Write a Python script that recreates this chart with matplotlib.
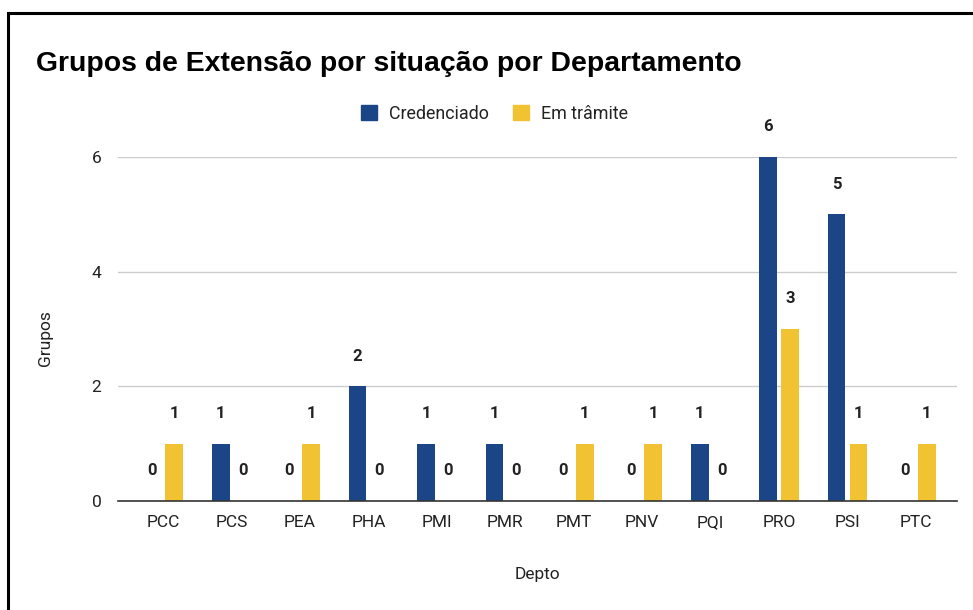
import matplotlib.pyplot as plt
import numpy as np
from matplotlib.patches import Patch
from matplotlib.lines import Line2D

deptos = ['PCC', 'PCS', 'PEA', 'PHA', 'PMI', 'PMR', 'PMT', 'PNV', 'PQI', 'PRO', 'PSI', 'PTC']
credenciado = [0, 1, 0, 2, 1, 1, 0, 0, 1, 6, 5, 0]
em_tramite = [1, 0, 1, 0, 0, 0, 1, 1, 0, 3, 1, 1]
series_names = ['Credenciado', 'Em trâmite']
colors = ['#1c4587', '#f1c232']

plt.rcParams['font.family'] = ['Roboto', 'DejaVu Sans']

fig = plt.figure(figsize=(9.73, 6.10), dpi=100)
ax = fig.add_axes([0.1213, 0.1787, 0.8623, 0.564])

index = np.arange(len(deptos))
bar_width = 0.26
offset = 0.16

for vals, off, col in [(credenciado, -offset, colors[0]), (em_tramite, offset, colors[1])]:
    ax.bar(index + off, vals, bar_width, color=col, zorder=3)
    for x, v in zip(index + off, vals):
        ax.annotate(str(v), (x, v), xytext=(0, 21.6), textcoords='offset points',
                    ha='center', va='center', fontsize=12, fontweight='bold',
                    color='#222222', annotation_clip=False)

ax.set_xlim(-0.66, 11.6)
ax.set_ylim(0, 6)
ax.set_yticks([0, 2, 4, 6])
ax.set_xticks(index)
ax.set_xticklabels(deptos)
ax.tick_params(axis='both', length=0, labelsize=12.5, colors='#222222')
ax.tick_params(axis='x', pad=10)
ax.tick_params(axis='y', pad=12)
ax.grid(axis='y', color='#cccccc', linewidth=1, zorder=0)
for s in ['top', 'right', 'left']:
    ax.spines[s].set_visible(False)
ax.spines['bottom'].set_color('#333333')
ax.spines['bottom'].set_linewidth(1.2)
ax.spines['bottom'].set_zorder(4)

fig.text(36 / 973, 1 - 64 / 610, 'Grupos de Extensão por situação por Departamento',
         fontsize=20.4, fontweight='bold', family=['Liberation Sans', 'DejaVu Sans'],
         ha='left', va='center', color='black')

handles = [Patch(facecolor=c, edgecolor=c) for c in colors]
fig.legend(handles, series_names, loc='center', bbox_to_anchor=(494.5 / 973, 1 - 114 / 610),
           ncol=2, frameon=False, fontsize=12.9, handlelength=0.9, handleheight=0.9,
           handletextpad=0.7, columnspacing=1.3, labelcolor='#222222')

fig.text(537 / 973, 1 - 575 / 610, 'Depto', fontsize=12.5, ha='center', va='center', color='#222222')
fig.text(45 / 973, 1 - 338 / 610, 'Grupos', fontsize=12.5, rotation=90, ha='center', va='center',
         color='#222222')

# frame lines at top and left edge
fig.add_artist(Line2D([7.5 / 973, 1], [1 - 13 / 610, 1 - 13 / 610], color='black', linewidth=2.2,
                      transform=fig.transFigure, solid_capstyle='butt'))
fig.add_artist(Line2D([7.5 / 973, 7.5 / 973], [0, 1 - 13 / 610], color='black', linewidth=2.2,
                      transform=fig.transFigure, solid_capstyle='projecting'))

fig.savefig('out.png', dpi=100)
